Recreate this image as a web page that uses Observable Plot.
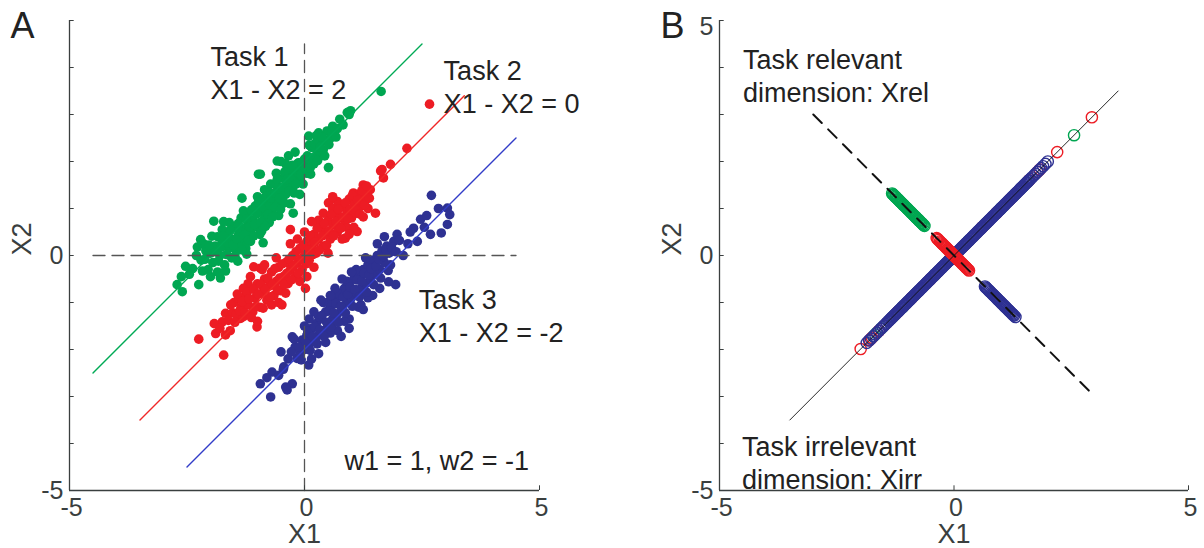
<!DOCTYPE html>
<html><head><meta charset="utf-8">
<script src="https://cdn.jsdelivr.net/npm/d3@7"></script>
<script src="https://cdn.jsdelivr.net/npm/@observablehq/plot@0.6"></script>
<style>
body{margin:0;background:#fff;}
#wrap{position:relative;width:1204px;height:548px;overflow:hidden;background:#fff;}
#a,#b{position:absolute;top:0;}
#a{left:0;} #b{left:602px;}
svg{overflow:visible;}
</style></head><body><div id="wrap"><div id="a"></div><div id="b"></div></div>
<script>
// ---------- data ----------
const taskNames = ["Task 1", "Task 2", "Task 3"];
const xTicks = [-5, 0, 5];
const yTicks = [-5, -4, -3, -2, -1, 0, 1, 2, 3, 4, 5];
const aYLabels = [0, -5];
const bYLabels = [5, 0, -5];
const xLabels = [-5, 0, 5];

// Panel A samples [X1, X2]
const greenPts = [[-2.71,-0.62],[-2.60,-0.77],[-2.53,-0.23],[-2.25,-0.62],[-2.0,-0.45],[-1.79,-0.48],[-2.21,0.34],[-1.23,0.03],[-1.93,0.73],[-1.33,1.22],[-0.98,1.73],[1.63,3.49],[0.91,3.04],[0.98,3.08],[0.95,3.0],[0.09,2.54],[0.30,2.61],[0.48,2.65],[0.64,2.58],[0.45,2.44],[0.27,2.22],[0.51,1.87],[0.13,1.73],[-0.13,1.97],[-0.34,2.12],[-0.58,2.01],[-0.94,1.73],[-0.72,1.52],[-0.37,1.58],
[-2.3,0.0],[-2.2,-0.1],[-2.1,0.1],[-2.15,0.25],[-2.0,0.05],[-1.95,-0.15],[-1.9,0.2],[-1.85,0.4],[-1.8,0.0],[-1.75,0.3],[-1.7,-0.2],[-1.65,0.5],[-1.6,0.15],[-1.55,0.35],[-1.5,0.6],[-1.45,0.1],[-1.4,0.45],[-1.35,0.8],[-1.3,0.3],[-1.25,0.6],[-1.2,0.9],[-1.15,0.5],[-1.1,0.75],[-1.05,1.05],[-1.0,0.6],[-0.95,0.95],[-0.9,1.2],[-0.85,0.8],[-0.8,1.1],[-0.75,1.35],[-0.7,0.95],[-0.65,1.2],[-0.6,1.5],[-0.55,1.1],[-0.5,1.35],[-0.45,1.65],[-0.4,1.3],[-0.35,1.5],[-0.3,1.8],[-0.25,1.45],[-0.2,1.7],[-0.15,1.95],[-0.1,1.6],[-0.05,1.85],[0.0,2.05],[0.05,1.75],[0.1,2.0],[0.15,2.3],[0.2,1.95],[0.3,2.15],[0.35,2.45],[0.4,2.25],[0.55,2.5],[0.6,2.75],[0.7,2.7],[0.75,2.9],[-1.6,0.7],[-1.75,0.55],[-1.3,0.95],[-1.0,1.25],[-0.85,1.4],[-0.6,1.75],[-0.4,1.95],[-1.55,-0.05],[-1.4,0.2],[-1.15,0.3],[-0.95,0.45],[-0.75,0.7],[-0.55,0.85],[-0.3,1.1],[-0.1,1.3],[-2.05,-0.3],[-1.85,-0.35],[-1.25,0.15],[-0.5,2.0],[-0.2,2.2],[0.1,2.35],[0.25,2.55],
[-2.12,-0.08],[-2.03,0.22],[-1.97,0.41],[-1.88,0.08],[-1.83,-0.12],[-1.77,0.18],[-1.72,0.42],[-1.66,0.02],[-1.63,0.27],[-1.58,0.53],[-1.52,0.22],[-1.48,-0.02],[-1.44,0.36],[-1.41,0.68],[-1.37,0.51],[-1.33,0.12],[-1.28,0.44],[-1.24,0.77],[-1.19,0.33],[-1.17,0.62],[-1.13,0.97],[-1.08,0.42],[-1.06,0.66],[-1.02,0.88],[-0.98,1.13],[-0.93,0.71],[-0.91,0.52],[-0.87,1.02],[-0.83,0.62],[-0.81,1.27],[-0.78,0.88],[-0.74,1.07],[-0.71,1.22],[-0.68,0.82],[-0.63,1.03],[-0.62,1.33],[-0.58,1.62],[-0.53,1.22],[-0.51,0.98],[-0.47,1.46],[-0.43,1.12],[-0.42,1.78],[-0.38,1.62],[-0.33,1.37],[-0.28,1.62],[-0.26,1.92],[-0.22,1.33],[-0.18,1.52],[-0.14,1.78],[-0.08,1.72],[-0.06,1.98],[-0.03,1.52],[0.02,1.86],[0.06,2.12],[0.12,1.86],[0.17,2.08],[0.22,2.38],[0.28,2.02],[0.33,2.31],[0.38,2.52],[0.43,2.12],[0.52,2.36],[0.58,2.62],[0.67,2.52],[0.82,2.78],[-2.38,-0.28],[-2.45,-0.4],[-2.28,0.18],[-2.17,-0.33],[-1.68,-0.33],[-1.42,-0.12],[-0.88,0.27],[-0.24,0.9],[-1.72,0.72],[-2.62,-0.45]];

const redPts = [[2.66,3.22],[2.18,2.28],[1.83,1.94],[1.65,1.83],[1.68,1.65],[1.51,0.90],[1.04,1.33],[1.33,1.33],[0.51,1.12],[1.12,0.51],[0.87,0.37],[0.02,-0.70],[-1.89,-1.66],[-1.68,-1.69],[-1.72,-2.12],[-1.01,-1.52],[-1.68,-1.23],[-1.36,-1.34],[-1.08,-0.24],[-0.94,-0.27],[-2.25,-1.78],[-1.75,-1.41],[-1.53,-1.22],[1.62,1.80],
[-1.5,-1.0],[-1.45,-1.25],[-1.4,-0.9],[-1.35,-1.1],[-1.3,-1.3],[-1.25,-0.85],[-1.2,-1.05],[-1.15,-0.7],[-1.1,-1.2],[-1.05,-0.9],[-1.0,-0.6],[-0.95,-1.1],[-0.9,-0.8],[-0.85,-0.5],[-0.8,-0.95],[-0.75,-0.65],[-0.7,-0.35],[-0.65,-0.85],[-0.6,-0.55],[-0.55,-0.25],[-0.5,-0.75],[-0.45,-0.45],[-0.4,-0.15],[-0.35,-0.6],[-0.3,-0.3],[-0.25,0.0],[-0.2,-0.45],[-0.15,-0.15],[-0.1,0.15],[-0.05,-0.3],[0.0,0.0],[0.05,0.3],[0.1,-0.1],[0.15,0.2],[0.2,0.45],[0.25,0.05],[0.3,0.35],[0.35,0.6],[0.4,0.2],[0.45,0.5],[0.5,0.75],[0.55,0.35],[0.6,0.65],[0.65,0.9],[0.7,0.5],[0.75,0.8],[0.8,1.05],[0.85,0.65],[0.9,0.95],[0.95,1.2],[1.0,0.8],[1.05,1.1],[1.1,0.9],[1.15,1.3],[1.2,1.05],[1.25,1.5],[1.3,1.2],[1.35,1.0],[1.4,1.4],[-1.2,-0.6],[-0.9,-0.3],[-0.6,-0.05],[-0.3,0.25],[0.0,0.5],[0.3,0.75],[0.6,1.0],[-1.0,-1.4],[-0.7,-1.05],[-0.4,-0.8],[-0.1,-0.55],[0.2,-0.25],[0.5,0.05],[0.8,0.35],[-0.85,-0.2],[-0.55,-1.0],[0.05,-0.45],[0.4,0.9],[0.9,0.6],[-1.3,-0.7],[-0.15,0.35],[0.7,1.15],[1.05,0.6],
[-1.62,-1.38],[-1.57,-1.05],[-1.48,-1.42],[-1.43,-0.82],[-1.38,-1.18],[-1.32,-0.98],[-1.27,-1.22],[-1.22,-0.78],[-1.18,-0.92],[-1.13,-1.32],[-1.08,-0.72],[-1.03,-1.08],[-0.98,-0.82],[-0.93,-0.62],[-0.88,-1.12],[-0.83,-0.72],[-0.78,-0.48],[-0.73,-0.88],[-0.68,-0.62],[-0.63,-0.28],[-0.58,-0.72],[-0.53,-0.48],[-0.48,-0.18],[-0.43,-0.62],[-0.38,-0.38],[-0.33,-0.08],[-0.28,-0.52],[-0.23,-0.22],[-0.18,0.08],[-0.13,-0.38],[-0.08,-0.08],[-0.03,0.22],[0.03,-0.18],[0.08,0.12],[0.12,0.42],[0.18,0.02],[0.22,0.28],[0.27,0.58],[0.32,0.12],[0.38,0.42],[0.42,0.68],[0.47,0.22],[0.52,0.52],[0.57,0.88],[0.62,0.42],[0.67,0.72],[0.72,0.98],[0.77,0.58],[0.82,0.82],[0.87,1.12],[0.92,0.78],[0.97,0.98],[1.02,1.28],[1.08,0.98],[1.13,1.18],[1.18,0.88],[1.22,1.38],[1.28,1.08],[1.32,1.48],[1.38,1.22],[-1.92,-1.45],[-1.8,-1.55],[-1.58,-1.6],[-0.3,0.55],[0.15,0.72],[0.95,0.45],[1.25,0.82],[-0.48,-1.05],[-1.15,-0.45],[0.6,1.25]];

const bluePts = [[2.70,1.28],[3.04,1.01],[3.09,0.87],[3.04,0.66],[2.91,0.48],[2.68,0.45],[2.47,0.77],[2.32,0.58],[1.97,0.45],[1.94,-0.62],[1.79,-0.56],[1.83,-0.20],[0.30,-2.09],[-0.26,-1.73],[0.09,-2.33],[-0.16,-2.19],[-0.44,-2.37],[-0.69,-2.48],[-0.94,-2.73],[-0.72,-3.01],[-0.26,-2.73],[-0.40,-2.80],[-0.37,-2.86],[-0.45,-2.42],[2.2,0.25],[2.4,0.3],[2.55,0.6],[2.1,0.0],
[-0.2,-1.95],[-0.1,-2.1],[-0.05,-1.8],[0.0,-2.0],[0.05,-1.7],[0.1,-1.9],[0.15,-1.55],[0.2,-1.8],[0.25,-1.45],[0.3,-1.7],[0.35,-1.35],[0.4,-1.6],[0.45,-1.2],[0.5,-1.5],[0.55,-1.1],[0.6,-1.35],[0.65,-0.95],[0.7,-1.25],[0.75,-0.85],[0.8,-1.15],[0.85,-0.7],[0.9,-1.0],[0.95,-0.6],[1.0,-0.9],[1.05,-0.5],[1.1,-0.8],[1.15,-0.4],[1.2,-0.7],[1.25,-0.3],[1.3,-0.6],[1.35,-0.2],[1.4,-0.5],[1.45,-0.1],[1.5,-0.4],[1.55,0.0],[1.6,-0.3],[1.65,0.1],[1.7,-0.15],[1.75,0.2],[1.8,0.05],[1.9,0.3],[0.3,-1.3],[0.5,-1.0],[0.7,-0.8],[0.9,-0.55],[1.1,-0.3],[1.3,-0.05],[0.2,-1.2],[0.45,-1.85],[0.7,-1.6],[0.95,-1.35],[1.2,-1.05],[1.45,-0.85],[0.4,-1.0],[0.65,-0.7],[0.85,-1.4],[1.0,-0.35],[1.15,-1.1],[1.35,-0.9],[0.55,-1.65],[0.8,-0.5],[1.6,-0.7],[-0.35,-2.2],[0.0,-1.5],[1.7,0.4],[0.1,-1.35],
[-0.28,-2.05],[-0.22,-1.78],[-0.12,-1.95],[-0.07,-2.22],[0.02,-1.82],[0.07,-1.62],[0.12,-2.02],[0.17,-1.72],[0.22,-1.52],[0.27,-1.88],[0.32,-1.58],[0.37,-1.28],[0.42,-1.72],[0.47,-1.42],[0.52,-1.18],[0.57,-1.52],[0.62,-1.22],[0.67,-1.02],[0.72,-1.42],[0.77,-1.08],[0.82,-0.88],[0.87,-1.22],[0.92,-0.82],[0.97,-0.68],[1.02,-1.08],[1.07,-0.72],[1.12,-0.52],[1.17,-0.88],[1.22,-0.55],[1.27,-0.38],[1.32,-0.78],[1.37,-0.42],[1.42,-0.28],[1.47,-0.62],[1.52,-0.22],[1.58,-0.08],[1.62,-0.48],[1.68,-0.02],[1.73,0.12],[1.78,-0.32],[1.85,0.18],[1.95,0.08],[2.02,0.32],[0.15,-2.2],[0.55,-0.85],[0.95,-1.55],[1.25,-1.15],[0.35,-0.95],[1.55,0.25],[0.78,-1.72],[2.25,0.5],[2.6,0.85],[2.85,1.0],[-0.55,-2.55],[-0.8,-2.6],[-0.5,-2.05]];

// Panel A fitted lines: [[X1, X2] start, [X1, X2] end] per task
const taskLines = [[[-4.5,-2.5],[2.5,4.5]], [[-3.5,-3.5],[3.4,3.4]], [[-2.5,-4.5],[4.5,2.5]]];
// Panel A dashed reference lines
const refVertical = [[0,-5],[0,4.5]];
const refHorizontal = [[-4.5,0],[4.5,0]];

// Panel B: X1 positions of projected samples along the relevant (X2=-X1) axis
const bRelGreen = [-1.32,-1.3,-1.29,-1.27,-1.25,-1.24,-1.22,-1.2,-1.19,-1.17,-1.15,-1.13,-1.12,-1.1,-1.08,-1.07,-1.05,-1.03,-1.01,-0.99,-0.97,-0.95,-0.93,-0.91,-0.89,-0.87,-0.86,-0.84,-0.82,-0.81,-0.79,-0.77,-0.75,-0.74,-0.72,-0.7,-0.69,-0.67,-0.65,-0.63];
const bRelRed = [-0.37,-0.35,-0.33,-0.3,-0.28,-0.26,-0.24,-0.22,-0.2,-0.18,-0.16,-0.14,-0.12,-0.11,-0.09,-0.07,-0.05,-0.03,-0.02,0.0,0.02,0.04,0.06,0.08,0.1,0.12,0.14,0.16,0.18,0.2,0.22,0.24,0.26,0.28,0.3,0.32];
const bRelBlue = [0.66,0.68,0.7,0.72,0.74,0.76,0.78,0.8,0.82,0.84,0.86,0.88,0.9,0.92,0.94,0.96,0.98,1.0,1.02,1.04,1.06,1.08,1.1,1.12,1.14,1.16,1.18,1.2,1.22,1.24,1.26,1.28,1.31];
// ... and along the irrelevant (X2=X1) axis
const bIrrGreen = [-1.72,-1.65,-1.55,-1.3,-1.1,-0.8,-0.4,0.0,0.3,0.7,1.0,1.3,1.45,1.55,2.56];
const bIrrRed = [-1.99,-1.8,-1.75,-1.6,-1.2,-0.9,-0.5,-0.1,0.2,0.6,0.9,1.2,1.6,1.78,1.83,2.2,2.94];
const bIrrBlue = [-1.86,-1.81,-1.77,-1.72,-1.68,-1.64,-1.6,-1.56,-1.52,-1.49,-1.46,-1.43,-1.4,
-1.38,-1.36,-1.34,-1.32,-1.3,-1.28,-1.26,-1.24,-1.22,-1.2,-1.18,-1.16,-1.14,-1.12,-1.1,-1.08,-1.06,-1.04,-1.02,-1.0,-0.98,-0.96,-0.94,-0.92,-0.9,-0.88,-0.86,-0.84,-0.82,-0.8,-0.78,-0.76,-0.74,-0.72,-0.7,-0.68,-0.66,-0.64,-0.62,-0.6,-0.58,-0.56,-0.54,-0.52,-0.5,-0.48,-0.46,-0.44,-0.42,-0.4,-0.38,-0.36,-0.34,-0.32,-0.3,-0.28,-0.26,-0.24,-0.22,-0.2,-0.18,-0.16,-0.14,-0.12,-0.1,-0.08,-0.06,-0.04,-0.02,0.0,
0.02,0.04,0.06,0.08,0.1,0.12,0.14,0.16,0.18,0.2,0.22,0.24,0.26,0.28,0.3,0.32,0.34,0.36,0.38,0.4,0.42,0.44,0.46,0.48,0.5,0.52,0.54,0.56,0.58,0.6,0.62,0.64,0.66,0.68,0.7,0.72,0.74,0.76,0.78,0.8,0.82,0.84,0.86,0.88,0.9,0.92,0.94,0.96,0.98,1.0,1.02,1.04,1.06,1.08,1.1,1.12,1.14,1.16,1.18,1.2,1.22,1.24,1.26,1.28,1.3,1.32,1.34,1.36,1.38,1.4,1.42,1.44,1.46,1.48,1.5,1.52,1.54,1.56,1.58,1.6,
1.63,1.66,1.7,1.74,1.78,1.82,1.86,1.9,1.95,2.0];
// Panel B axes drawn: [start, end]
const irrAxis = [[-3.5,-3.5],[3.5,3.5]];
const relAxis = [[-3.0,3.0],[2.9,-2.9]];

// Text
const notesA = ["Task 1\nX1 - X2 = 2", "Task 2\nX1 - X2 = 0", "Task 3\nX1 - X2 = -2", "w1 = 1, w2 = -1"];
const notesB = ["Task relevant\ndimension: Xrel", "Task irrelevant\ndimension: Xirr"];

// ---------- layout & style ----------
const colors = ["#00a651", "#ed1c24", "#2e3192"];
const lineStroke = ["rgb(0,170,85)", "rgb(240,40,40)", "rgb(50,60,200)"];
const axisColor = "#3a3f3f";
const FONT = "'Liberation Sans', Arial, sans-serif";
const notesAPos = [[-2.0,4.53],[2.96,4.23],[2.43,-0.64],[0.85,-4.06]];
const notesBPos = [[-4.5,4.47],[-4.52,-3.77]];

function axes(yLabels, letter) {
  return [
    Plot.ruleX([-5], {y1: -5, y2: 5, stroke: axisColor, strokeWidth: 1.3}),
    Plot.ruleY([-5], {x1: -5, x2: 5, stroke: axisColor, strokeWidth: 1.3}),
    Plot.ruleY(yTicks, {y: d => d, x1: () => -5, x2: () => -4.9, stroke: axisColor, strokeWidth: 1}),
    Plot.ruleX(xTicks, {x: d => d, y1: () => -5, y2: () => -4.9, stroke: axisColor, strokeWidth: 1}),
    Plot.text(xLabels, {x: d => d, text: d => String(d), frameAnchor: "bottom", lineAnchor: "top", dx: 2, dy: 8, fontSize: 25, fill: axisColor}),
    Plot.text(yLabels.filter(d => d !== 5), {y: d => d, text: d => String(d), frameAnchor: "left", textAnchor: "end", dx: -6, fontSize: 25, fill: axisColor}),
    Plot.text(yLabels.filter(d => d === 5), {y: d => d, text: d => String(d), frameAnchor: "left", textAnchor: "end", dx: -6, dy: 6, fontSize: 25, fill: axisColor}),
    Plot.text(["X1"], {frameAnchor: "bottom", lineAnchor: "top", dy: 33, fontSize: 27, fill: axisColor}),
    Plot.text(["X2"], {frameAnchor: "left", dx: -47, rotate: -90, fontSize: 27, fill: axisColor}),
    Plot.text([letter], {frameAnchor: "top-left", textAnchor: "start", lineAnchor: "top", dx: -59, dy: -8, fontSize: 36, fill: "#222"})
  ];
}

const base = {
  height: 548, marginTop: 20, marginBottom: 58,
  x: {domain: [-5, 5], axis: null},
  y: {domain: [-5, 5], axis: null},
  style: {fontFamily: FONT, background: "transparent", overflow: "visible"}
};

const sets = [greenPts, redPts, bluePts];
const plotA = Plot.plot({
  ...base, width: 602, marginLeft: 69, marginRight: 63,
  marks: [
    ...sets.map((pts, i) => Plot.dot(pts, {x: d => d[0], y: d => d[1], r: 4.8, fill: colors[i], stroke: "none"})),
    ...taskLines.map((ln, i) => Plot.line(ln, {x: d => d[0], y: d => d[1], stroke: lineStroke[i], strokeWidth: 1.4})),
    Plot.line(refVertical, {x: d => d[0], y: d => d[1], stroke: "#555", strokeWidth: 1.3, strokeDasharray: "12,7"}),
    Plot.line(refHorizontal, {x: d => d[0], y: d => d[1], stroke: "#555", strokeWidth: 1.3, strokeDasharray: "12,7"}),
    Plot.text(notesA, {x: (d, i) => notesAPos[i][0], y: (d, i) => notesAPos[i][1], text: d => d, textAnchor: "start", lineAnchor: "top", lineHeight: 1.22, fontSize: 27, fill: "#222"}),
    ...axes(aYLabels, "A")
  ]
});

const relSets = [bRelGreen, bRelRed, bRelBlue];
const irrSets = [bIrrGreen, bIrrRed, bIrrBlue];
const bMarks = [];
irrSets.forEach((irr, i) => {
  bMarks.push(Plot.dot(irr, {x: d => d, y: d => d, r: 5.6, stroke: colors[i], strokeWidth: 1.4, fill: "none"}));
});
relSets.forEach((rel, i) => {
  bMarks.push(Plot.dot(rel, {x: d => d, y: d => -d, r: 5.6, stroke: colors[i], strokeWidth: 1.4, fill: "none"}));
});
const plotB = Plot.plot({
  ...base, width: 602, marginLeft: 117, marginRight: 16,
  marks: [
    ...bMarks,
    Plot.line(irrAxis, {x: d => d[0], y: d => d[1], stroke: "#111", strokeWidth: 0.9}),
    Plot.line(relAxis, {x: d => d[0], y: d => d[1], stroke: "#111", strokeWidth: 2, strokeDasharray: "12,9"}),
    Plot.text(notesB, {x: (d, i) => notesBPos[i][0], y: (d, i) => notesBPos[i][1], text: d => d, textAnchor: "start", lineAnchor: "top", lineHeight: 1.22, fontSize: 27, fill: "#222"}),
    ...axes(bYLabels, "B")
  ]
});

document.getElementById("a").appendChild(plotA);
document.getElementById("b").appendChild(plotB);
</script></body></html>
